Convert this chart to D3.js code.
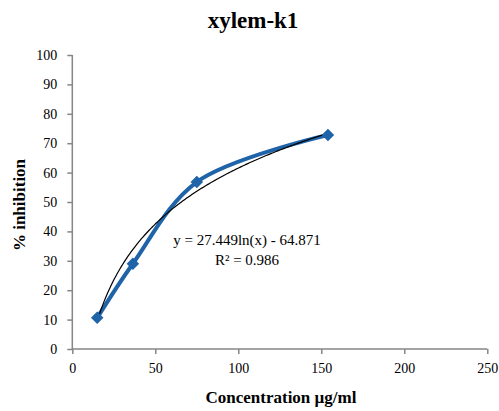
<!DOCTYPE html>
<html><head><meta charset="utf-8">
<script src="https://cdn.jsdelivr.net/npm/d3@7"></script>
<style>
body{margin:0;background:#fff;}
</style></head>
<body><svg id="c" width="499" height="411"></svg>
<script>
const concentration = [15, 36.5, 75, 154];
const inhibition = [10.6, 29, 56.8, 72.8];
const xTicks = [0, 50, 100, 150, 200, 250];
const yTicks = [0, 10, 20, 30, 40, 50, 60, 70, 80, 90, 100];
const trendCoef = [27.449, -64.871]; // y = a ln(x) + b
const eqLabels = ["y = 27.449ln(x) - 64.871", "R² = 0.986"];

const F = "serif";

const svg = d3.select("#c");
const x = d3.scaleLinear().domain([0, 250]).range([72.3, 487.3]);
const y = d3.scaleLinear().domain([0, 100]).range([349, 55]);
const axisColor = "#868686";

const gx = svg.append("g").attr("transform", `translate(0,${y(0)})`)
  .call(d3.axisBottom(x).tickValues(xTicks).tickSize(5).tickPadding(9));
const gy = svg.append("g").attr("transform", `translate(${x(0)},0)`)
  .call(d3.axisLeft(y).tickValues(yTicks).tickSize(5).tickPadding(10));
[gx, gy].forEach(g => {
  g.attr("font-family", F).attr("font-size", "14px");
  g.select(".domain").attr("stroke", axisColor).attr("stroke-width", 1.5);
  g.selectAll(".tick line").attr("stroke", axisColor).attr("stroke-width", 1.5);
  g.selectAll(".tick text").attr("fill", "#000");
});
gx.select(".domain").attr("d", `M${x(0)},0H${x(250)}`);
gy.select(".domain").attr("d", `M0,${y(0)}V${y(100)}`);

const pts = concentration.map((c, i) => [c, inhibition[i]]);
svg.append("path").datum(pts)
  .attr("fill", "none").attr("stroke", "#1f64a8").attr("stroke-width", 4)
  .attr("stroke-linejoin", "round")
  .attr("d", d3.line().x(d => x(d[0])).y(d => y(d[1])).curve(d3.curveCatmullRom.alpha(0.5)));

const xs = d3.range(0, 201).map(i => concentration[0] + (concentration[concentration.length-1] - concentration[0]) * i / 200);
svg.append("path").datum(xs)
  .attr("fill", "none").attr("stroke", "#000").attr("stroke-width", 1.2)
  .attr("d", d3.line().x(d => x(d)).y(d => y(trendCoef[0] * Math.log(d) + trendCoef[1])));

svg.selectAll(".m").data(pts).enter().append("path")
  .attr("transform", d => `translate(${x(d[0])},${y(d[1])})`)
  .attr("d", d3.symbol(d3.symbolDiamond2, 100)())
  .attr("fill", "#1f64a8");

svg.append("text").attr("x", 253).attr("y", 28).attr("text-anchor", "middle")
  .attr("font-family", F).attr("font-size", "23px").attr("font-weight", "bold").text("xylem-k1");

svg.selectAll(".eq").data(eqLabels).enter().append("text")
  .attr("x", 247).attr("y", (d, i) => 245 + i * 20).attr("text-anchor", "middle")
  .attr("font-family", F).attr("font-size", "15px").text(d => d);

svg.append("text").attr("x", 281).attr("y", 403).attr("text-anchor", "middle")
  .attr("font-family", F).attr("font-size", "17px").attr("font-weight", "bold").text("Concentration µg/ml");
svg.append("text").attr("transform", "translate(25,205) rotate(-90)").attr("text-anchor", "middle")
  .attr("font-family", F).attr("font-size", "17px").attr("font-weight", "bold").text("% inhibition");
</script></body></html>
